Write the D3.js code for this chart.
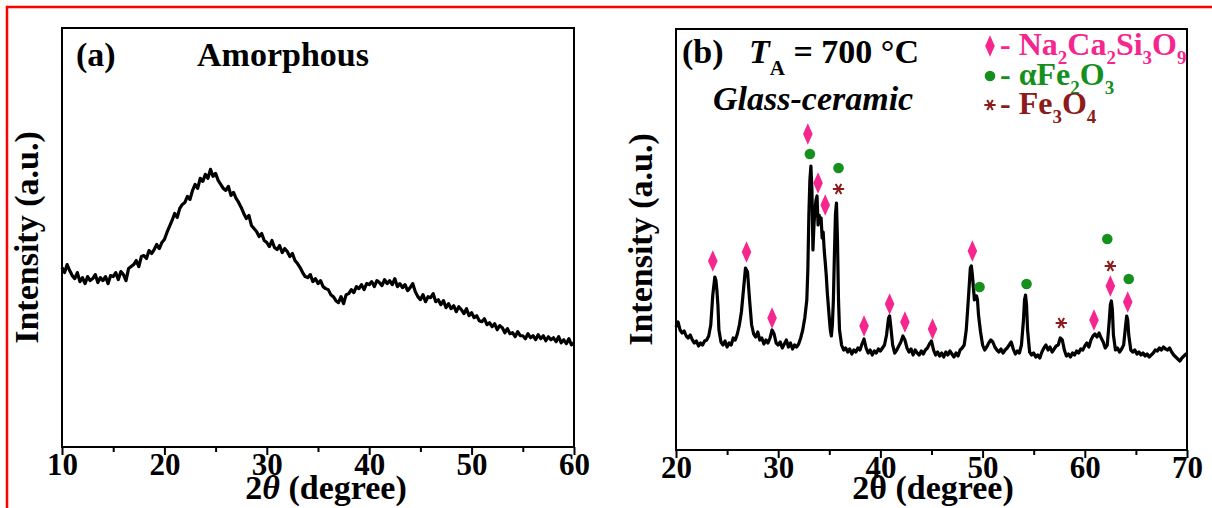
<!DOCTYPE html>
<html><head><meta charset="utf-8">
<script src="https://cdn.jsdelivr.net/npm/d3@7"></script>
<style>
html,body{margin:0;padding:0;background:#fff;}
svg{display:block;}
text{font-family:"Liberation Serif","Times New Roman",serif;font-weight:bold;}
</style></head>
<body>
<svg id="chart" width="1212" height="508"></svg>
<script>
// ---------- DATA ----------
const ticksA = [10, 20, 30, 40, 50, 60];
const minorA = [15, 25, 35, 45, 55];
const ticksB = [20, 30, 40, 50, 60, 70];
const minorB = [25, 35, 45, 55, 65];
const stepA = 0.25;
const intensityA = [
179,174,182,176, 171,168,174,165, 169,163,170,166, 168,172,164,169, 166,170,163,171,
170,174,167,175, 172,166,178,180, 182,186,180,190, 191,188,196,193, 197,202,198,204,
207,214,220,226, 233,229,238,242, 244,250,247,256, 262,258,268,265, 272,268,277,270,
273,266,262,258, 256,260,251,254, 248,244,239,233, 228,231,221,218, 215,210,213,206,
204,200,206,199, 197,201,194,198, 195,190,193,186, 183,179,174,170, 169,172,165,168,
163,166,160,158, 157,152,150,146, 144,150,143,152, 153,157,154,160, 158,162,157,163,
162,165,160,166, 164,161,167,163, 166,162,168,160, 163,159,162,156, 159,163,155,150,
147,152,145,150, 149,153,145,147, 142,146,139,143, 138,141,135,140, 137,133,138,131,
134,129,131,126, 125,128,122,124, 120,123,117,121, 119,114,118,113, 114,110,115,111,
111,108,113,109, 111,107,112,108, 111,106,110,107, 109,105,110,104, 107,103,108,102,
104];
const thetaB = [
20.0,20.2,20.4,20.6,20.8,21.0,21.2,21.4,21.6,21.8,22.0,22.2,22.4,22.6,22.8,23.0,23.2,23.4,23.6,23.8,23.9,24.0,24.1,24.2,24.4,24.6,24.8,
25.0,25.2,25.4,25.6,25.8,26.0,26.2,26.4,26.6,26.8,27.0,27.2,27.4,27.6,27.8,28.0,28.2,28.4,28.6,28.8,29.0,29.2,29.4,29.6,29.8,
30.0,30.2,30.4,30.6,30.8,31.0,31.2,31.4,31.6,31.8,32.0,32.2,32.4,32.6,32.8,32.9,33.0,33.1,33.2,33.3,33.4,33.5,33.6,33.7,33.8,33.9,
34.0,34.1,34.2,34.3,34.4,34.5,34.6,34.7,34.8,34.9,35.0,35.1,35.2,35.3,35.4,35.5,35.6,35.7,35.8,35.9,36.0,36.2,36.4,36.6,36.8,
37.0,37.2,37.4,37.6,37.8,38.0,38.2,38.4,38.6,38.8,39.0,39.2,39.4,39.6,39.8,40.0,40.2,40.4,40.6,40.8,40.9,41.0,41.2,41.4,41.6,41.8,
42.0,42.2,42.4,42.6,42.8,43.0,43.2,43.4,43.6,43.8,44.0,44.2,44.4,44.6,44.8,45.0,45.2,45.4,45.6,45.8,46.0,46.2,46.4,46.6,46.8,
47.0,47.2,47.4,47.6,47.8,48.0,48.2,48.4,48.6,48.8,48.9,49.0,49.2,49.4,49.5,49.6,49.8,50.0,50.2,50.4,50.6,50.8,51.0,51.2,51.4,51.6,51.8,
52.0,52.2,52.4,52.6,52.8,53.0,53.2,53.4,53.6,53.8,54.0,54.1,54.2,54.3,54.4,54.6,54.8,55.0,55.2,55.4,55.6,55.8,56.0,56.2,56.4,56.6,56.8,
57.0,57.2,57.4,57.6,57.8,58.0,58.2,58.4,58.6,58.8,59.0,59.2,59.4,59.6,59.8,60.0,60.2,60.4,60.6,60.8,61.0,61.2,61.4,61.6,61.8,
62.0,62.2,62.4,62.5,62.6,62.7,62.8,63.0,63.2,63.4,63.6,63.8,64.0,64.1,64.2,64.3,64.5,64.7,64.9,65.1,65.3,65.5,65.7,65.9,
66.1,66.3,66.5,66.7,66.9,67.1,67.3,67.5,67.7,67.9,68.1,68.3,68.5,68.7,68.9,69.1,69.3,69.5,69.7,69.9,70.0];
const intensityB = [
123,128,120,117,119,114,112,115,110,107,109,104,107,105,109,110,114,125,155,173,170,160,145,120,108,105,109,
103,107,105,112,110,116,125,138,160,182,178,150,125,116,113,118,110,112,106,110,107,112,120,116,107,
105,108,102,106,110,103,107,101,105,103,106,112,120,132,150,180,235,270,284,260,200,225,240,250,254,225,
235,228,232,212,218,200,188,175,158,145,132,120,114,125,150,195,235,247,210,150,120,105,100,102,98,
101,96,100,98,102,100,106,111,102,97,100,95,99,97,101,99,102,105,115,132,134,125,105,97,100,104,
108,114,110,102,98,101,95,100,97,95,99,96,100,102,106,109,100,95,98,94,97,93,98,95,99,
96,93,97,94,100,102,105,120,150,182,184,175,150,154,150,135,118,105,100,103,107,110,108,103,100,98,101,
97,100,102,105,108,101,96,99,97,105,130,150,155,145,120,98,95,97,93,95,92,98,102,105,100,103,98,
101,104,105,112,110,100,94,96,93,97,95,99,97,101,100,104,107,103,110,114,116,113,117,112,108,
102,105,130,145,149,140,115,100,102,98,101,105,125,134,130,115,100,98,100,96,98,95,97,94,
96,93,95,97,100,99,102,100,103,101,100,102,98,95,93,91,89,92,94,96,95];
const diamondB = [[23.6,189],[26.9,198],[29.4,132],[32.9,316],[33.9,267],[34.6,245],[38.4,124],[40.9,146],
  [42.4,128],[45.1,121],[49.0,199],[60.9,130],[62.5,164],[64.2,148]];
const circleB = [[33.1,296],[35.9,282],[49.7,163],[54.3,166],[62.2,211],[64.3,171]];
const asteriskB = [[35.9,261],[57.7,127],[62.5,184]];

// ---------- STYLE ----------
const PINK = "#f5268e", GREEN = "#16901c", BROWN = "#8c1b1b";
const svg = d3.select("#chart");

svg.append("rect").attr("x", 7).attr("y", 7).attr("width", 1230).attr("height", 530)
  .attr("fill", "none").attr("stroke", "#ff0000").attr("stroke-width", 2.5);

function panel(opt) {
  const x = d3.scaleLinear().domain(opt.xdom).range([opt.left, opt.right]);
  const y = d3.scaleLinear().domain(opt.ydom).range([opt.bottom, opt.top]);
  const g = svg.append("g");
  const ax = g.append("g").attr("transform", `translate(0,${opt.bottom})`)
    .call(d3.axisBottom(x).tickValues(opt.ticks).tickSize(8).tickPadding(-2).tickFormat(d3.format("d")));
  ax.select(".domain").remove();
  ax.selectAll(".tick line").attr("stroke", "#000").attr("stroke-width", 2);
  ax.selectAll(".tick text").attr("font-size", 31).attr("font-family", '"Liberation Serif",serif')
    .attr("font-weight", "bold").attr("fill", "#000");
  const axm = g.append("g").attr("transform", `translate(0,${opt.bottom})`)
    .call(d3.axisBottom(x).tickValues(opt.minor).tickSize(5).tickFormat(""));
  axm.select(".domain").remove();
  axm.selectAll(".tick line").attr("stroke", "#000").attr("stroke-width", 2);
  const line = d3.line().x(d => x(d[0])).y(d => y(d[1]));
  g.append("path").datum(opt.data).attr("d", line).attr("fill", "none")
    .attr("stroke", "#000").attr("stroke-width", 3.2).attr("stroke-linejoin", "round");
  g.append("rect").attr("x", opt.left).attr("y", opt.top)
    .attr("width", opt.right - opt.left).attr("height", opt.bottom - opt.top)
    .attr("fill", "none").attr("stroke", "#000").attr("stroke-width", 2);
  g.append("text").attr("transform", `translate(${opt.ylabX},${(opt.top + opt.bottom) / 2}) rotate(-90)`)
    .attr("text-anchor", "middle").attr("font-size", 34).text("Intensity (a.u.)");
  return {x, y, g};
}

// Panel (a)
const dataA = intensityA.map((v, i) => [10 + i * stepA, v]);
const pa = panel({xdom: [10, 60], ydom: [0, 418], left: 62, right: 574, top: 28, bottom: 447,
  ticks: ticksA, minor: minorA, data: dataA, ylabX: 38});
const tA = pa.g.append("text").attr("x", 326).attr("y", 499).attr("text-anchor", "middle").attr("font-size", 34);
tA.append("tspan").text("2");
tA.append("tspan").attr("font-style", "italic").text("θ");
tA.append("tspan").text(" (degree)");
pa.g.append("text").attr("x", 76).attr("y", 66).attr("font-size", 34).text("(a)");
pa.g.append("text").attr("x", 197).attr("y", 66).attr("font-size", 34).text("Amorphous");

// Panel (b)
const dataB = thetaB.map((t, i) => [t, intensityB[i]]);
const pb = panel({xdom: [20, 70], ydom: [0, 421], left: 676, right: 1187, top: 29, bottom: 450,
  ticks: ticksB, minor: minorB, data: dataB, ylabX: 652});
pb.g.append("text").attr("x", 933).attr("y", 499).attr("text-anchor", "middle").attr("font-size", 34).text("2θ (degree)");
pb.g.append("text").attr("x", 682).attr("y", 63).attr("font-size", 34).text("(b)");
const tt = pb.g.append("text").attr("x", 749).attr("y", 63).attr("font-size", 34);
tt.append("tspan").attr("font-style", "italic").text("T");
tt.append("tspan").attr("font-size", 21).attr("dy", 12).text("A");
tt.append("tspan").attr("dy", -12).text(" = 700 °C");
pb.g.append("text").attr("x", 713).attr("y", 110).attr("font-size", 34).attr("font-style", "italic").text("Glass-ceramic");

const diamond = d3.symbol(d3.symbolDiamond, 110);
pb.g.selectAll(".dia").data(diamondB).join("path").attr("d", diamond)
  .attr("transform", d => `translate(${pb.x(d[0])},${pb.y(d[1])}) scale(0.85,1.1)`).attr("fill", PINK);
pb.g.selectAll(".cir").data(circleB).join("circle")
  .attr("cx", d => pb.x(d[0])).attr("cy", d => pb.y(d[1])).attr("r", 5.3).attr("fill", GREEN);
const ast = d3.symbol(d3.symbolAsterisk, 90);
pb.g.selectAll(".ast").data(asteriskB).join("path").attr("d", ast)
  .attr("transform", d => `translate(${pb.x(d[0])},${pb.y(d[1])}) rotate(90)`)
  .attr("fill", "none").attr("stroke", BROWN).attr("stroke-width", 2);

// legend
const lg = pb.g.append("g");
lg.append("path").attr("d", diamond).attr("transform", "translate(990,46) scale(0.85,1.1)").attr("fill", PINK);
const l1 = lg.append("text").attr("x", 1000).attr("y", 55).attr("font-size", 32).attr("fill", PINK);
l1.append("tspan").text(" - Na");
[["2","Ca"],["2","Si"],["3","O"],["9",""]].forEach(([s, n]) => {
  l1.append("tspan").attr("font-size", 19).attr("dy", 9).text(s);
  if (n) l1.append("tspan").attr("dy", -9).text(n);
});
lg.append("circle").attr("cx", 990).attr("cy", 76).attr("r", 5.3).attr("fill", GREEN);
const l2 = lg.append("text").attr("x", 1000).attr("y", 85).attr("font-size", 32).attr("fill", GREEN);
l2.append("tspan").text(" - αFe");
l2.append("tspan").attr("font-size", 19).attr("dy", 9).text("2");
l2.append("tspan").attr("dy", -9).text("O");
l2.append("tspan").attr("font-size", 19).attr("dy", 9).text("3");
lg.append("path").attr("d", ast).attr("transform", "translate(990,105) rotate(90)")
  .attr("fill", "none").attr("stroke", BROWN).attr("stroke-width", 2);
const l3 = lg.append("text").attr("x", 1000).attr("y", 114).attr("font-size", 32).attr("fill", BROWN);
l3.append("tspan").text(" - Fe");
l3.append("tspan").attr("font-size", 19).attr("dy", 9).text("3");
l3.append("tspan").attr("dy", -9).text("O");
l3.append("tspan").attr("font-size", 19).attr("dy", 9).text("4");
</script>
</body></html>
